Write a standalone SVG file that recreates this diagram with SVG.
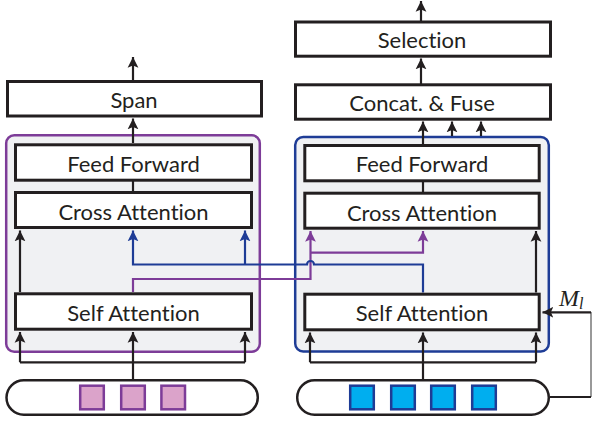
<svg xmlns="http://www.w3.org/2000/svg" width="593" height="423" viewBox="0 0 593 423">
<style>
  .box{fill:#fff;stroke:#231f20;stroke-width:3}
  .lbl{font-family:Lato,"Open Sans","Liberation Sans",sans-serif;font-size:22px;fill:#231f20;text-anchor:middle;font-variant-ligatures:none}
  .blk{fill:none;stroke:#231f20;stroke-width:2.2}
  .pur{fill:none;stroke:#7d3c98;stroke-width:2.2}
  .blu{fill:none;stroke:#1e3c96;stroke-width:2.2}
  .pill{fill:#fff;stroke:#231f20;stroke-width:2.5}
  .psq{fill:#dba3ca;stroke:#7d3c98;stroke-width:2.5}
  .bsq{fill:#00aeef;stroke:#1e3c96;stroke-width:2.5}
</style>
<defs>
  <marker id="ab" markerUnits="userSpaceOnUse" markerWidth="12" markerHeight="12" refX="9" refY="4.5" orient="auto" viewBox="0 0 10 9">
    <path d="M0,0 L9,4.5 L0,9 L2,4.5 z" fill="#231f20"/>
  </marker>
  <marker id="ap" markerUnits="userSpaceOnUse" markerWidth="12" markerHeight="12" refX="9" refY="4.5" orient="auto" viewBox="0 0 10 9">
    <path d="M0,0 L9,4.5 L0,9 L2,4.5 z" fill="#7d3c98"/>
  </marker>
  <marker id="au" markerUnits="userSpaceOnUse" markerWidth="12" markerHeight="12" refX="9" refY="4.5" orient="auto" viewBox="0 0 10 9">
    <path d="M0,0 L9,4.5 L0,9 L2,4.5 z" fill="#1e3c96"/>
  </marker>
</defs>

<g id="container-left">
  <rect x="6.2" y="135.3" width="253.6" height="216.4" rx="8" fill="#f0f1f3" stroke="#7d3c98" stroke-width="2.5"/>
</g>
<g id="container-right">
  <rect x="295.2" y="137" width="253.6" height="214.5" rx="8" fill="#f0f1f3" stroke="#1e3c96" stroke-width="2.5"/>
</g>

<g id="connectors">
  <!-- left column -->
  <path class="blk" d="M133,80 L133,57" marker-end="url(#ab)"/>
  <path class="blk" d="M133,143 L133,118.5" marker-end="url(#ab)"/>
  <path class="blk" d="M133,181 L133,191"/>
  <path class="blk" d="M20,292 L20,230.5" marker-end="url(#ab)"/>
  <path class="blk" d="M20,362.3 L245,362.3"/>
  <path class="blk" d="M20,362.3 L20,332" marker-end="url(#ab)"/>
  <path class="blk" d="M133,380 L133,332" marker-end="url(#ab)"/>
  <path class="blk" d="M245,362.3 L245,332" marker-end="url(#ab)"/>
  <!-- right column -->
  <path class="blk" d="M421,21 L421,1" marker-end="url(#ab)"/>
  <path class="blk" d="M421,84 L421,58.5" marker-end="url(#ab)"/>
  <path class="blk" d="M423,144 L423,121.5" marker-end="url(#ab)"/>
  <path class="blk" d="M452,136 L452,121.5" marker-end="url(#ab)"/>
  <path class="blk" d="M481,136 L481,121.5" marker-end="url(#ab)"/>
  <path class="blk" d="M423,182 L423,192"/>
  <path class="blk" d="M536,292.5 L536,231" marker-end="url(#ab)"/>
  <path class="blk" d="M310,362.3 L536,362.3"/>
  <path class="blk" d="M310,362.3 L310,332.5" marker-end="url(#ab)"/>
  <path class="blk" d="M423,380 L423,332.5" marker-end="url(#ab)"/>
  <path class="blk" d="M536,362.3 L536,332.5" marker-end="url(#ab)"/>
  <!-- M_l feedback -->
  <path fill="none" stroke="#555" stroke-width="1.2" d="M591,312 L591,397"/>
  <path class="blk" d="M591,397 L550,397"/>
  <path class="blk" d="M591,312.3 L542.5,312.3" marker-end="url(#ab)"/>
  <!-- purple: left self attention to right cross attention -->
  <path class="pur" d="M133,292 L133,279 L310.5,279 L310.5,231" marker-end="url(#ap)"/>
  <path class="pur" d="M310.5,252.7 L423,252.7 L423,231" marker-end="url(#ap)"/>
  <!-- blue: right self attention to left cross attention -->
  <path class="blu" d="M423,292.5 L423,264.5 L314,264.5 A3.5,3.5 0 0 0 307,264.5 L133,264.5 L133,230.5" marker-end="url(#au)"/>
  <path class="blu" d="M245,264.5 L245,230.5" marker-end="url(#au)"/>
</g>

<g id="span"><rect class="box" x="7.5" y="81.5" width="254" height="34.5"/><text class="lbl" x="134" y="107.5">Span</text></g>
<g id="selection"><rect class="box" x="295.5" y="22" width="255" height="34.2"/><text class="lbl" x="422" y="47.5">Selection</text></g>
<g id="concat-fuse"><rect class="box" x="295.5" y="84.8" width="255" height="34.4"/><text class="lbl" x="422" y="111">Concat. &amp; Fuse</text></g>

<g id="feed-forward-left"><rect class="box" x="15.5" y="144.8" width="236" height="35.4"/><text class="lbl" x="133.5" y="171.5">Feed Forward</text></g>
<g id="cross-attention-left"><rect class="box" x="15.5" y="192.5" width="236" height="35"/><text class="lbl" x="133.5" y="220">Cross Attention</text></g>
<g id="self-attention-left"><rect class="box" x="15.5" y="293.8" width="236" height="35.4"/><text class="lbl" x="133.5" y="320.7">Self Attention</text></g>

<g id="feed-forward-right"><rect class="box" x="304.8" y="145.5" width="234.4" height="35.3"/><text class="lbl" x="422" y="172.2">Feed Forward</text></g>
<g id="cross-attention-right"><rect class="box" x="304.8" y="193.2" width="234.4" height="35"/><text class="lbl" x="422" y="220.5">Cross Attention</text></g>
<g id="self-attention-right"><rect class="box" x="304.8" y="294.2" width="234.4" height="35.6"/><text class="lbl" x="422" y="321">Self Attention</text></g>

<g id="input-left">
  <rect class="pill" x="6.5" y="380.2" width="251.3" height="34.6" rx="17.3"/>
  <rect class="psq" x="80.2" y="385.7" width="23.6" height="23.6"/>
  <rect class="psq" x="121.2" y="385.7" width="23.6" height="23.6"/>
  <rect class="psq" x="161.4" y="385.7" width="23.6" height="23.6"/>
</g>
<g id="input-right">
  <rect class="pill" x="297.2" y="380.2" width="251.6" height="34.6" rx="17.3"/>
  <rect class="bsq" x="350.2" y="385.7" width="23.6" height="23.6"/>
  <rect class="bsq" x="391.2" y="385.7" width="23.6" height="23.6"/>
  <rect class="bsq" x="431.2" y="385.7" width="23.6" height="23.6"/>
  <rect class="bsq" x="472.2" y="385.7" width="23.6" height="23.6"/>
</g>

<g id="label-ml">
  <text x="559" y="306" font-family="'Liberation Serif',serif" font-style="italic" font-size="24" fill="#231f20">M<tspan font-size="16" dy="3">l</tspan></text>
</g>
</svg>
